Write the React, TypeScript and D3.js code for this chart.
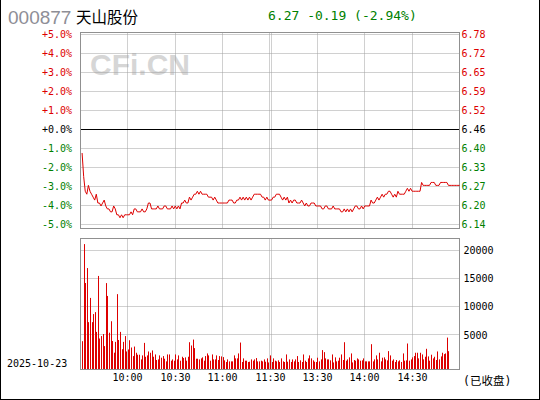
import React from "react";
import * as d3 from "d3";

const CODE = "000877";
const NAME = "天山股份";
const DATE = "2025-10-23";
const STATUS = "(已收盘)";
const PREV_CLOSE = 6.46;
const QUOTE = "6.27 -0.19 (-2.94%)";

const pctTicks = [5, 4, 3, 2, 1, 0, -1, -2, -3, -4, -5];
const pctLabels = ["+5.0%", "+4.0%", "+3.0%", "+2.0%", "+1.0%", "+0.0%", "-1.0%", "-2.0%", "-3.0%", "-4.0%", "-5.0%"];
const priceLabels = ["6.78", "6.72", "6.65", "6.59", "6.52", "6.46", "6.40", "6.33", "6.27", "6.20", "6.14"];
const volTicks = [20000, 15000, 10000, 5000];
const timeTicks = [30, 60, 90, 120, 150, 180, 210];
const timeLabels = ["10:00", "10:30", "11:00", "11:30", "13:30", "14:00", "14:30"];

// minute-by-minute price, starting at minute 1 (9:31)
const prices = [
  6.38, 6.30, 6.25, 6.24, 6.27, 6.25, 6.24, 6.23, 6.22, 6.24,
  6.21, 6.21, 6.20, 6.21, 6.22, 6.20, 6.19, 6.19, 6.18, 6.18,
  6.20, 6.19, 6.17, 6.17, 6.16, 6.17, 6.16, 6.17, 6.17, 6.17,
  6.17, 6.18, 6.17, 6.19, 6.19, 6.18, 6.18, 6.18, 6.19, 6.18,
  6.18, 6.19, 6.21, 6.21, 6.19, 6.19, 6.19, 6.19, 6.20, 6.19,
  6.19, 6.19, 6.20, 6.20, 6.19, 6.19, 6.19, 6.20, 6.19, 6.20,
  6.19, 6.20, 6.19, 6.21, 6.21, 6.22, 6.21, 6.21, 6.23, 6.22,
  6.23, 6.24, 6.24, 6.25, 6.24, 6.25, 6.24, 6.24, 6.24, 6.24,
  6.23, 6.23, 6.23, 6.22, 6.23, 6.22, 6.21, 6.21, 6.21, 6.21,
  6.21, 6.21, 6.21, 6.22, 6.22, 6.22, 6.21, 6.21, 6.22, 6.22,
  6.23, 6.22, 6.23, 6.22, 6.23, 6.22, 6.23, 6.22, 6.23, 6.24,
  6.24, 6.24, 6.24, 6.24, 6.23, 6.23, 6.22, 6.23, 6.22, 6.22,
  6.22, 6.23, 6.23, 6.24, 6.24, 6.24, 6.23, 6.22, 6.23, 6.22,
  6.23, 6.21, 6.22, 6.21, 6.22, 6.22, 6.21, 6.21, 6.21, 6.22,
  6.21, 6.20, 6.21, 6.20, 6.20, 6.21, 6.21, 6.21, 6.20, 6.20,
  6.20, 6.20, 6.19, 6.19, 6.20, 6.20, 6.19, 6.19, 6.19, 6.20,
  6.19, 6.19, 6.19, 6.19, 6.18, 6.18, 6.19, 6.18, 6.19, 6.18,
  6.19, 6.18, 6.19, 6.20, 6.20, 6.19, 6.19, 6.20, 6.19, 6.20,
  6.20, 6.20, 6.20, 6.22, 6.21, 6.21, 6.22, 6.23, 6.22, 6.23,
  6.24, 6.23, 6.24, 6.24, 6.25, 6.25, 6.24, 6.23, 6.24, 6.23,
  6.25, 6.24, 6.24, 6.24, 6.24, 6.25, 6.26, 6.25, 6.26, 6.25,
  6.25, 6.25, 6.25, 6.25, 6.25, 6.28, 6.27, 6.27, 6.27, 6.27,
  6.27, 6.28, 6.28, 6.28, 6.27, 6.27, 6.27, 6.28, 6.28, 6.28,
  6.28, 6.28, 6.27, 6.27, 6.27, 6.27, 6.27, 6.27, 6.27, 6.27,
];

// minute-by-minute volume (hands), starting at minute 1
const volumes = [
  3870, 21100, 14200, 16850, 7250, 11550, 7250, 8680, 9030, 5520,
  15450, 4350, 4780, 5140, 3000, 14180, 11900, 5380, 7410, 3900,
  1830, 3750, 12220, 4080, 5520, 2450, 3750, 4780, 2050, 2400,
  4040, 2750, 1230, 2920, 1820, 1470, 1470, 640, 1350, 3570,
  1110, 1350, 2050, 1820, 2230, 1110, 1520, 530, 640, 1350,
  940, 1230, 760, 290, 1520, 1520, 410, 640, 410, 1520,
  640, 1350, 410, 1110, 880, 1000, 410, 1110, 3690, 3110,
  4160, 2640, 760, 760, 640, 820, 1000, 410, 1230, 1700,
  1350, 410, 1520, 640, 640, 1350, 530, 1230, 1170, 1050,
  470, 180, 640, 290, 290, 290, 1350, 820, 820, 1700,
  3630, 180, 820, 410, 410, 180, 230, 640, 410, 640,
  880, 290, 290, 410, 290, 640, 230, 820, 100, 1350,
  180, 820, 410, 290, 470, 180, 820, 290, 180, 1520,
  230, 640, 180, 640, 290, 640, 1230, 180, 470, 180,
  1520, 410, 180, 820, 1350, 820, 470, 230, 180, 940,
  290, 640, 2290, 1930, 820, 640, 640, 470, 1520, 100,
  1000, 290, 410, 940, 1520, 530, 3690, 410, 640, 1000,
  1700, 100, 530, 410, 820, 640, 410, 470, 820, 290,
  290, 290, 290, 3340, 290, 640, 1350, 640, 1820, 290,
  940, 1000, 640, 470, 2110, 1350, 410, 640, 180, 530,
  290, 470, 180, 1700, 410, 470, 3460, 410, 640, 1000,
  1230, 1820, 1820, 820, 1820, 1520, 640, 1110, 2520, 1170,
  410, 1470, 820, 1110, 530, 2050, 640, 1170, 1820, 1580,
  1700, 4510, 2100,
];

const RED = "#dd0000";
const GREEN = "#008000";
const GRID = "#a0a0a0";
const BORDER = "#909090";
const MONO = "'DejaVu Sans Mono', monospace";

const crisp = (v: number) => Math.floor(v) + 0.5;

export default function App() {
  const W = 540, H = 400;
  const x = d3.scaleLinear().domain([0, 240]).range([80.5, 459.5]);
  const pBox = { top: 32.5, bottom: 228.5 };
  const vBox = { top: 238.5, bottom: 369.5 };
  const yPct = d3.scaleLinear().domain([-5, 5]).range([224.5, 34.5]);
  const yVol = d3.scaleLinear().domain([0, 20000]).range([363, 250.3]);
  const pct = (p: number) => (p / PREV_CLOSE - 1) * 100;

  const line = d3
    .line<number>()
    .x((_, i) => x(i + 1))
    .y((p) => yPct(pct(p)));

  const labelColor = (v: number) => (v > 0 ? RED : v < 0 ? GREEN : "#000");

  const vGridXs: number[] = [];
  timeTicks.forEach((t) => {
    if (t === 120) {
      vGridXs.push(crisp(x(t)) - 1, crisp(x(t)) + 1);
    } else vGridXs.push(crisp(x(t)));
  });

  return (
    <svg
      width={W}
      height={H}
      style={{ position: "absolute", left: 0, top: 0, background: "#fff" }}
    >
      <rect x={0} y={0} width={W} height={H} fill="#fff" />
      {/* header */}
      <text x={8} y={24} fontFamily="'Liberation Sans', Arial, sans-serif" fontSize={19} fill="#8e8e96">
        {CODE}
      </text>
      <text x={76} y={22.5} fontFamily="'Noto Sans CJK SC', sans-serif" fontSize={15.5} fill="#000">
        {NAME}
      </text>
      <text x={268} y={19.5} fontFamily={MONO} fontSize={13} fill={GREEN} xmlSpace="preserve">
        {QUOTE}
      </text>

      {/* watermark */}
      <text
        x={90}
        y={75}
        fontFamily="'Liberation Sans', Arial, sans-serif"
        fontWeight="bold"
        fontSize={30}
        fill="#d6d6d6"
      >
        CFi.CN
      </text>

      {/* price panel grid */}
      {pctTicks.map((t) =>
        t === 0 ? null : (
          <line
            key={"hp" + t}
            x1={x(0)}
            x2={x(240)}
            y1={yPct(t)}
            y2={yPct(t)}
            stroke={GRID}
            strokeDasharray="1 1"
          />
        )
      )}
      {vGridXs.map((gx, k) => (
        <line key={"vp" + k} x1={gx} x2={gx} y1={pBox.top} y2={pBox.bottom} stroke={GRID} strokeDasharray="1 1" />
      ))}
      <line x1={x(0)} x2={x(240)} y1={yPct(0)} y2={yPct(0)} stroke="#000" />
      <rect
        x={x(0)}
        y={pBox.top}
        width={x(240) - x(0)}
        height={pBox.bottom - pBox.top}
        fill="none"
        stroke={BORDER}
      />

      {/* price line */}
      <path d={line(prices) || ""} fill="none" stroke={RED} strokeWidth={1} />

      {/* price labels */}
      {pctTicks.map((t, k) => (
        <text
          key={"lp" + t}
          x={72}
          y={yPct(t) + 3.7}
          textAnchor="end"
          fontFamily={MONO}
          fontSize={10}
          fill={labelColor(t)}
        >
          {pctLabels[k]}
        </text>
      ))}
      {pctTicks.map((t, k) => (
        <text
          key={"rp" + t}
          x={461.5}
          y={yPct(t) + 3.7}
          fontFamily={MONO}
          fontSize={10}
          fill={labelColor(t)}
        >
          {priceLabels[k]}
        </text>
      ))}

      {/* volume panel grid */}
      {volTicks.map((v) => (
        <line
          key={"hv" + v}
          x1={x(0)}
          x2={x(240)}
          y1={crisp(yVol(v))}
          y2={crisp(yVol(v))}
          stroke={GRID}
          strokeDasharray="1 1"
        />
      ))}
      {vGridXs.map((gx, k) => (
        <line key={"vv" + k} x1={gx} x2={gx} y1={vBox.top} y2={vBox.bottom} stroke={GRID} strokeDasharray="1 1" />
      ))}

      {/* volume bars */}
      {volumes.map((v, i) => {
        const bx = Math.round(x(i + 1));
        const top = yVol(v);
        return (
          <rect key={"b" + i} x={bx} y={top} width={1} height={vBox.bottom - top} fill={RED} />
        );
      })}

      <rect
        x={x(0)}
        y={vBox.top}
        width={x(240) - x(0)}
        height={vBox.bottom - vBox.top}
        fill="none"
        stroke={BORDER}
      />

      {volTicks.map((v) => (
        <text key={"vl" + v} x={463.5} y={yVol(v) + 3.7} fontFamily={MONO} fontSize={10} fill="#000">
          {String(v)}
        </text>
      ))}

      {/* time labels */}
      {timeTicks.map((t, k) => (
        <text
          key={"t" + t}
          x={crisp(x(t))}
          y={381}
          textAnchor="middle"
          fontFamily={MONO}
          fontSize={10}
          fill="#000"
        >
          {timeLabels[k]}
        </text>
      ))}
      <text x={7} y={366.5} fontFamily={MONO} fontSize={10} fill="#000">
        {DATE}
      </text>
      <text
        x={463}
        y={384.5}
        fontFamily="'DejaVu Sans Mono', 'Noto Sans CJK SC', monospace"
        fontSize={11.5}
        fill="#000"
      >
        {STATUS}
      </text>

      {/* outer frame */}
      <line x1={0.5} x2={0.5} y1={0} y2={H} stroke="#000" />
      <line x1={W - 0.5} x2={W - 0.5} y1={0} y2={H} stroke="#000" />
      <line x1={0} x2={W} y1={H - 0.5} y2={H - 0.5} stroke="#000" />
    </svg>
  );
}
